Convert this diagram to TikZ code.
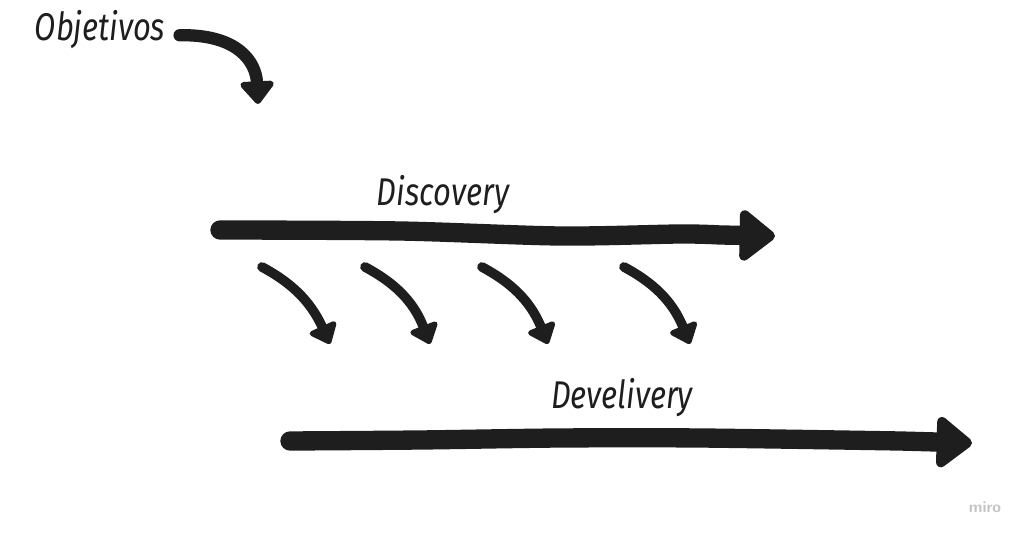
\documentclass[tikz,border=0pt]{standalone}
\usepackage{fontspec}
\usepackage{xcolor}
\usetikzlibrary{arrows.meta}

\newfontfamily\handfont[FakeStretch=0.8]{Fira Sans}
\definecolor{ink}{HTML}{1E1E1E}
\definecolor{miroGray}{HTML}{C4C4C4}

\tikzset{
	handtext/.style = {font=\handfont\itshape\fontsize{22}{22}\selectfont, text=ink, inner sep=0pt},
	bigarrow/.style = {draw=ink, line width=11pt, line cap=round,
		-{Triangle[round, length=22pt, width=33pt]}},
	midarrow/.style = {draw=ink, line width=7pt, line cap=round,
		-{Triangle[round, length=14pt, width=22pt]}},
	smallarrow/.style = {draw=ink, line width=5.5pt, line cap=round,
		-{Triangle[round, length=12pt, width=19pt]}}
}

\begin{document}
\begin{tikzpicture}[x=0.02cm, y=-0.02cm]
	%\draw[help lines, step=50] (0,0) grid (1024,536);
	\fill[white] (0,0) rectangle (1024,536);
	
	\node[handtext] (objetivos) at (100,30) {Objetivos};
	\node[handtext] (discovery) at (443,195) {Discovery};
	\node[handtext] (develivery) at (622,398) {Develivery};
	\node[font=\sffamily\bfseries\fontsize{9}{9}\selectfont, text=miroGray] (miro) at (985,507) {miro};
	
	\coordinate (objEnd) at (258,104);
	\coordinate (discStart) at (220,230);
	\coordinate (discEnd) at (775,236);
	\coordinate (devStart) at (290,441);
	\coordinate (devEnd) at (972,443);
	
	% objetivos arrow
	\draw[midarrow] ([xshift=8pt, yshift=-3pt]objetivos.east) .. controls (238,34) and (256,62) .. (objEnd);
	
	% discovery and delivery lines
	\draw[bigarrow] plot[smooth] coordinates {(discStart) (400,231) (560,236) (680,234) (720,235)} -- (discEnd);
	\draw[bigarrow] plot[smooth] coordinates {(devStart) (420,440) (560,438) (700,438) (900,441)} -- (devEnd);
	
	% small arrows between
	\foreach \sx/\ex [count=\i] in {262/330, 365/430, 482/548, 624/690}{
		\coordinate (s\i) at (\sx,267);
		\coordinate (e\i) at (\ex,344);
		\draw[smallarrow] (s\i) .. controls (\sx+28,282) and (\sx+48,300) .. (e\i);
	}
\end{tikzpicture}
\end{document}
